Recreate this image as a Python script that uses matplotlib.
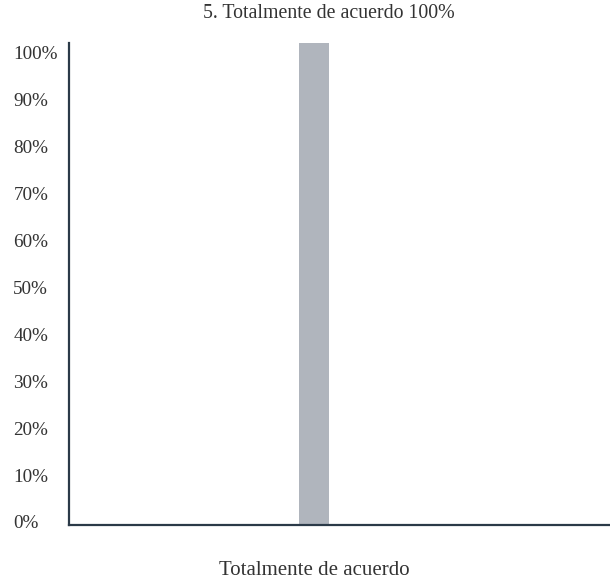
import matplotlib
matplotlib.use("Agg")
import matplotlib.pyplot as plt
from matplotlib.transforms import ScaledTranslation

# Survey answer share
categories = ["Totalmente de acuerdo"]
values = [100]
title_text = "5. Totalmente de acuerdo 100%"
y_ticks = [0, 10, 20, 30, 40, 50, 60, 70, 80, 90, 100]
y_tick_labels = [f"{t}%" for t in y_ticks]

plt.rcParams['font.family'] = ['Liberation Serif', 'DejaVu Serif']

fig = plt.figure(figsize=(6.10, 5.83), dpi=100)
ax = fig.add_axes([0.113, 0.0995, 0.887, 0.8265])

ax.bar(range(len(categories)), values, width=0.55, color='#b0b5bd')
ax.set_xlim(-4.53, 5.47)
ax.set_ylim(0, 100)

ax.set_xticks(range(len(categories)))
ax.set_xticklabels(categories, fontsize=15, color='#333333')
ax.tick_params(axis='x', length=0, pad=26)

ax.set_yticks(y_ticks)
ax.set_yticklabels(y_tick_labels, fontsize=13.8, color='#333333')
ax.tick_params(axis='y', length=0, pad=40)
# labels sit on a slightly tighter grid than the bar scale
for t, tick in zip(y_ticks, ax.yaxis.get_major_ticks()):
    lbl = tick.label1
    lbl.set_horizontalalignment('left')
    dy = (-3 + 0.12 * t) / 100
    lbl.set_transform(lbl.get_transform() + ScaledTranslation(0, -dy, fig.dpi_scale_trans))

for side in ['top', 'right']:
    ax.spines[side].set_visible(False)
for side in ['left', 'bottom']:
    ax.spines[side].set_color('#2b3a48')
    ax.spines[side].set_linewidth(1.6)

fig.text(329 / 610, 1 - 14 / 583, title_text, ha='center', va='center',
         fontsize=14.3, color='#333333')

fig.savefig('out.png', dpi=100)
